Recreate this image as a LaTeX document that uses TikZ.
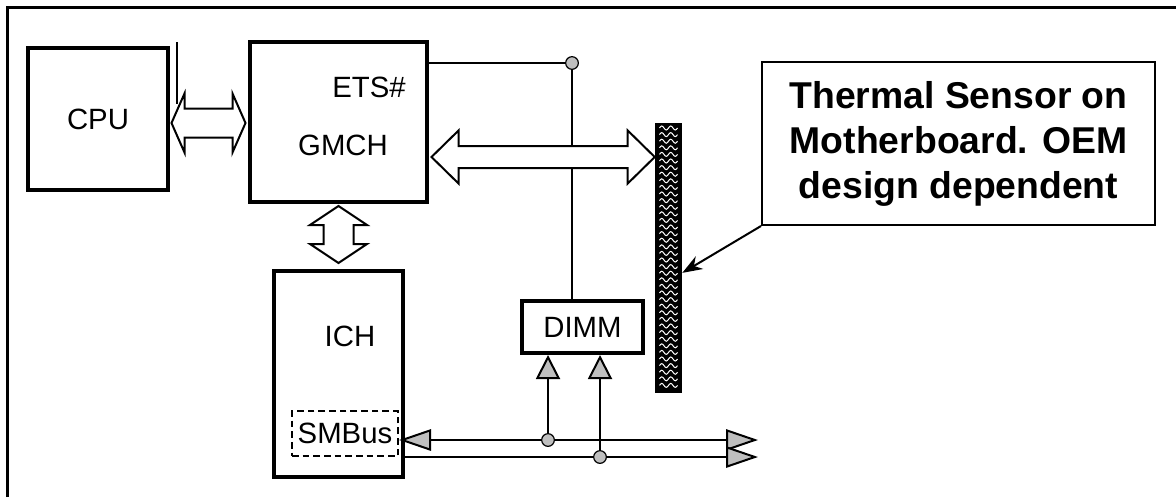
\documentclass[tikz,border=0pt]{standalone}
\usepackage{fontspec}
\setmainfont{Liberation Sans}
\usetikzlibrary{arrows.meta, positioning, calc}
\def\px{0.75pt}
% hollow double arrow, left tip to right tip: shaft half, head half, head length (px)
\newcommand{\hdblarrow}[5]{%
  \draw[blockline] let \p1=#1, \p2=#2 in
    (\x1,\y1) -- (\x1+#5*\px,\y1+#4*\px) -- (\x1+#5*\px,\y1+#3*\px) -- (\x2-#5*\px,\y1+#3*\px)
    -- (\x2-#5*\px,\y1+#4*\px) -- (\x2,\y1) -- (\x2-#5*\px,\y1-#4*\px) -- (\x2-#5*\px,\y1-#3*\px)
    -- (\x1+#5*\px,\y1-#3*\px) -- (\x1+#5*\px,\y1-#4*\px) -- cycle;}
% same, top tip to bottom tip
\newcommand{\vdblarrow}[5]{%
  \draw[blockline] let \p1=#1, \p2=#2 in
    (\x1,\y1) -- (\x1+#4*\px,\y1-#5*\px) -- (\x1+#3*\px,\y1-#5*\px) -- (\x1+#3*\px,\y2+#5*\px)
    -- (\x1+#4*\px,\y2+#5*\px) -- (\x1,\y2) -- (\x1-#4*\px,\y2+#5*\px) -- (\x1-#3*\px,\y2+#5*\px)
    -- (\x1-#3*\px,\y1-#5*\px) -- (\x1-#4*\px,\y1-#5*\px) -- cycle;}

\begin{document}
\begin{tikzpicture}[x=0.75pt, y=-0.75pt,
    chip/.style={draw, line width=3pt, inner sep=0pt, font=\fontsize{22}{26}\selectfont},
    chiptext/.style={inner sep=0pt, font=\fontsize{22}{26}\selectfont},
    blockline/.style={draw, fill=white, line width=1.5pt, line join=miter},
    wire/.style={line width=1.5pt},
    busarrow/.style={line width=1.5pt, -{Triangle[fill=lightgray, length=24pt, width=16pt]}},
    uparrow/.style={line width=1.5pt, -{Triangle[fill=lightgray, length=18pt, width=18pt]}},
    tapdot/.style={circle, draw, fill=lightgray, line width=0.9pt, minimum size=9.5pt, inner sep=0pt}
]
\useasboundingbox (0,0) rectangle (1176,497);
% Frame
\draw[line width=2.25pt] (7,497) -- (7,7) -- (1176,7);
% Chips
\node[chip, minimum width=140*\px, minimum height=142*\px] (cpu) at (98,119) {CPU};
\node[chip, minimum width=177*\px, minimum height=160*\px] (gmch) at (338.5,122) {};
\node[chiptext] (etslabel) at (369,87) {ETS\#};
\node[chiptext] (gmchlabel) at (343,145) {GMCH};
\node[chip, minimum width=129*\px, minimum height=206*\px] (ich) at (338.5,374) {};
\node[chiptext] (ichlabel) at (350,336) {ICH};
\node[chip, line width=1.5pt, dash pattern=on 5pt off 3pt, minimum width=106*\px, minimum height=45*\px] (smbus) at (345,433.5) {SMBus};
\node[chip, minimum width=121*\px, minimum height=52*\px] (dimm) at (582.5,327) {DIMM};
% Thermal sensor strip
\node[fill=black, minimum width=27*\px, minimum height=270*\px, inner sep=0pt] (sensor) at (668.5,258) {};
\foreach \k in {0,...,39} {
  \draw[white, line width=1*\px] (659.5,128+6.6*\k) sin ++(2.25,-2) cos ++(2.25,2) sin ++(2.25,2) cos ++(2.25,-2) sin ++(2.25,-2) cos ++(2.25,2) sin ++(2.25,2) cos ++(2.25,-2);
}
% ETS# line
\coordinate (etsdot) at (572,63);
\draw[wire] (gmch.east |- etsdot) -- (etsdot) -- (etsdot |- dimm.north);
\node[tapdot] (etstap) at (etsdot) {};
% Small mark by the CPU
\coordinate (cputick) at (177,42);
\draw[wire] (cputick) -- ++(0,62);
% Block arrows
\hdblarrow{($(cpu.east)+(1.5,4)$)}{($(cpu.east -| gmch.west)+(-2.5,4)$)}{14.5}{29.5}{13}
\hdblarrow{($(gmch.east)+(2.5,35)$)}{($(gmch.east -| sensor.west)+(0,35)$)}{11}{26.5}{27}
\vdblarrow{($(gmch.south)+(0,2)$)}{($(ich.north)+(0,-6)$)}{15}{28.5}{19}
% SMBus
\coordinate (busendA) at (758,440);
\coordinate (busendB) at (758,457);
\coordinate (tapA) at (548,440);
\coordinate (tapB) at (600,457);
\draw[busarrow, {Triangle[fill=lightgray, length=24pt, width=16pt]}-{Triangle[fill=lightgray, length=24pt, width=16pt]}] (smbus.east |- busendA) -- (busendA);
\draw[busarrow] (ich.east |- busendB) -- (busendB);
\draw[uparrow] (tapA) -- (tapA |- dimm.south);
\draw[uparrow] (tapB) -- (tapB |- dimm.south);
\node[tapdot] (tapdotA) at (tapA) {};
\node[tapdot] (tapdotB) at (tapB) {};
% Callout
\node[draw, line width=2*\px, minimum width=393*\px, minimum height=163*\px, align=center, font=\fontsize{28}{33.75}\selectfont\bfseries] (note) at (958.5,143.5) {Thermal Sensor on\\Motherboard. OEM\\design dependent};
\draw[line width=1.5pt, -{Stealth[length=15pt, width=11pt]}] (note.south west) -- ($(sensor.north east)!0.555!(sensor.south east)$);
\end{tikzpicture}
\end{document}
